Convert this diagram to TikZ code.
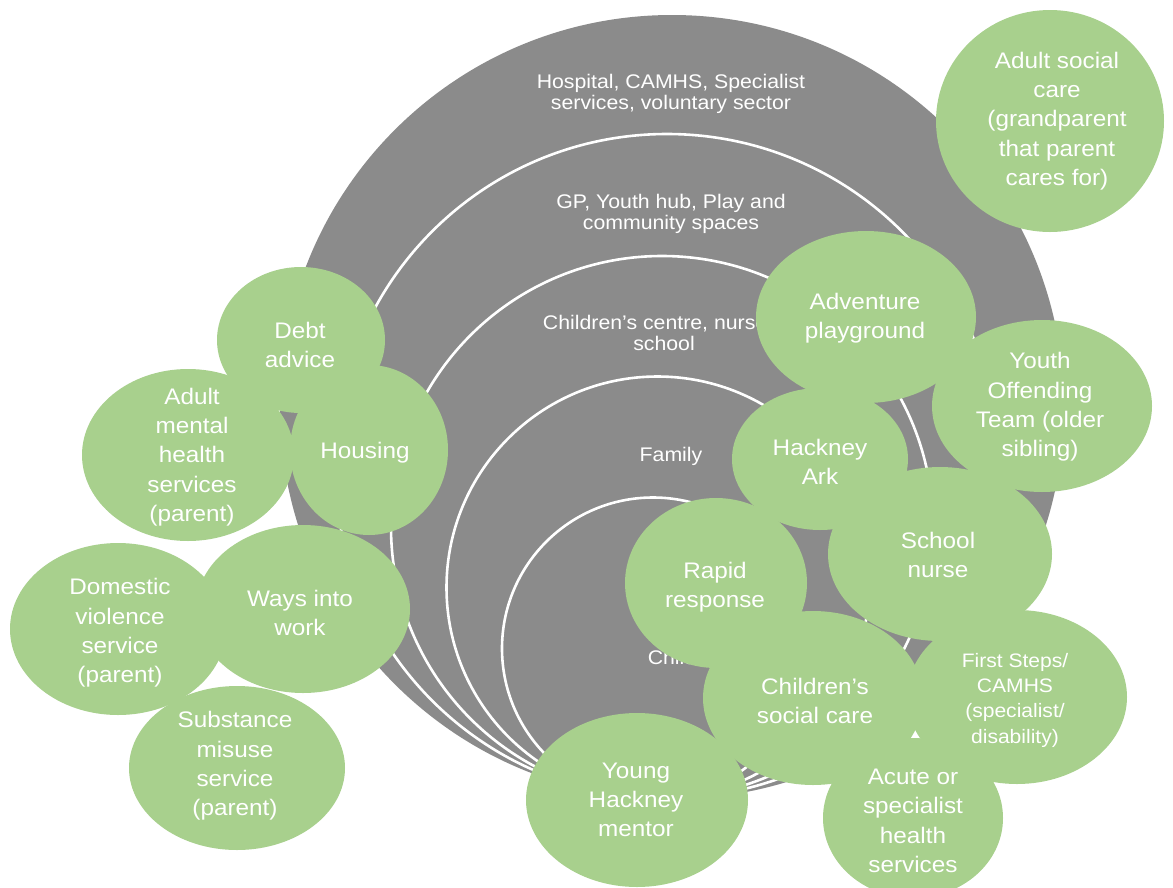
\documentclass[tikz,border=0pt]{standalone}
\usepackage{fontspec}
\setmainfont{Liberation Sans}[FakeStretch=1.08]
\usetikzlibrary{shapes.geometric}
\definecolor{bubblegreen}{RGB}{168,208,141}
\definecolor{ringgray}{RGB}{139,139,139}
\tikzset{
  ring/.style={draw=white, line width=2.6pt},
  bubble/.style={ellipse, fill=bubblegreen, draw=none, inner sep=0pt},
  btext/.style={text=white, align=center, inner sep=0pt, font=\fontsize{22.5}{29.3}\selectfont},
  bsmall/.style={text=white, align=center, inner sep=0pt, font=\fontsize{19.5}{25.3}\selectfont},
  rtext/.style={text=white, align=center, inner sep=0pt, font=\fontsize{19.7}{21.5}\selectfont},
}
\begin{document}
\begin{tikzpicture}[x=1pt,y=-1pt]
\useasboundingbox (0,0) rectangle (1173,887);
% rings
\fill[ringgray] (672,407) circle[radius=392pt];
\draw[ring] (667,466) circle[radius=332pt];
\draw[ring] (662,527) circle[radius=271pt];
\draw[ring] (657.5,587.5) circle[radius=211pt];
\draw[ring] (653,648.5) circle[radius=151pt];
% ring labels
\node[rtext] (l1) at (671,94) {Hospital, CAMHS, Specialist\\services, voluntary sector};
\node[rtext] (l2) at (671,214) {GP, Youth hub, Play and\\community spaces};
\node[rtext] (l3) at (664,333) {Children's centre, nursery\\school};
\node[rtext] (l4) at (671,456) {Family};
\node[rtext] (l5) at (672,657) {Child};
% bubbles
\node[bubble, minimum width=228pt, minimum height=222pt] (asc) at (1050,121) {};
\node[bubble, minimum width=220pt, minimum height=172pt] (adv) at (866,317) {};
\node[bubble, minimum width=220pt, minimum height=172pt] (yot) at (1042,406) {};
\node[bubble, minimum width=176pt, minimum height=142pt] (ark) at (820,459) {};
\node[bubble, minimum width=224pt, minimum height=174pt] (nurse) at (940,554) {};
\node[bubble, minimum width=182pt, minimum height=170pt] (rapid) at (716,583) {};
\node[bubble, minimum width=220pt, minimum height=174pt] (csc) at (813,698) {};
\node[bubble, minimum width=220pt, minimum height=174pt] (first) at (1017,697) {};
\node[bubble, minimum width=180pt, minimum height=160pt] (acute) at (913,818) {};
\node[bubble, minimum width=222pt, minimum height=174pt] (young) at (637,800) {};
\node[bubble, minimum width=168pt, minimum height=146pt] (debt) at (301,340) {};
\node[bubble, minimum width=158pt, minimum height=170pt] (housing) at (369,450) {};
\node[bubble, minimum width=212pt, minimum height=172pt] (amh) at (188,455) {};
\node[bubble, minimum width=216pt, minimum height=172pt] (dv) at (118,629) {};
\node[bubble, minimum width=214pt, minimum height=168pt] (ways) at (303,609) {};
\node[bubble, minimum width=216pt, minimum height=164pt] (subst) at (237,768) {};
% bubble texts
\node[btext] (ascT) at (1057,121) {Adult social\\care\\(grandparent\\that parent\\cares for)};
\node[btext] (advT) at (865,318) {Adventure\\playground};
\node[btext] (yotT) at (1040,407) {Youth\\Offending\\Team (older\\sibling)};
\node[btext] (arkT) at (820,462) {Hackney\\Ark};
\node[btext] (nurseT) at (938,555) {School\\nurse};
\node[btext] (rapidT) at (715,587) {Rapid\\response};
\node[btext] (cscT) at (815,701) {Children's\\social care};
\node[bsmall] (firstT) at (1015,700) {First Steps/\\CAMHS\\(specialist/\\disability)};
\node[btext] (acuteT) at (913,821) {Acute or\\specialist\\health\\services};
\node[btext] (youngT) at (636,800) {Young\\Hackney\\mentor};
\node[btext] (debtT) at (300,345) {Debt\\advice};
\node[btext] (housingT) at (365,453) {Housing};
\node[btext] (amhT) at (192,457) {Adult\\mental\\health\\services\\(parent)};
\node[btext] (dvT) at (120,633) {Domestic\\violence\\service\\(parent)};
\node[btext] (waysT) at (300,613) {Ways into\\work};
\node[btext] (substT) at (235,766) {Substance\\misuse\\service\\(parent)};
\end{tikzpicture}
\end{document}
